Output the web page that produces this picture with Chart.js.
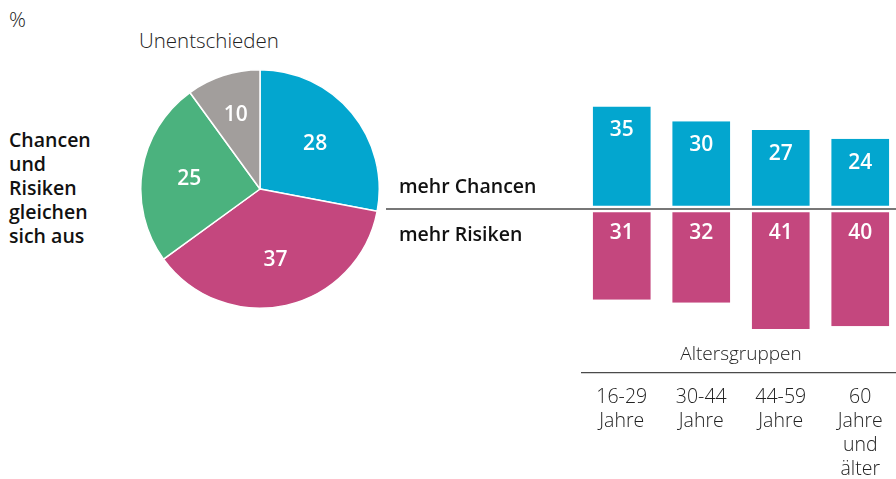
<!DOCTYPE html>
<html>
<head>
<meta charset="utf-8">
<script src="https://cdn.jsdelivr.net/npm/chart.js@4.4.1/dist/chart.umd.min.js"></script>
<style>
  html, body { margin:0; padding:0; background:#fff; width:896px; height:479px; overflow:hidden; }
  #wrap { position:relative; width:896px; height:479px; overflow:hidden; font-family:"Open Sans", "Noto Sans", sans-serif; }
  .txt { position:absolute; white-space:nowrap; }
  #pct { left:9px; top:5px; font-size:21px; line-height:28px; font-weight:300; color:#222; }
  #unent { left:139px; top:27px; font-size:20.5px; line-height:26px; font-weight:300; color:#222; }
  #balance { left:9px; top:128px; font-size:19.5px; line-height:24px; font-weight:600; color:#111; }
  #pieCanvas { position:absolute; left:140px; top:69px; }
  #barCanvas { position:absolute; left:380px; top:0px; }
</style>
</head>
<body>
<div id="wrap">
  <div class="txt" id="pct">%</div>
  <div class="txt" id="unent">Unentschieden</div>
  <div class="txt" id="balance">Chancen<br>und<br>Risiken<br>gleichen<br>sich aus</div>
  <canvas id="pieCanvas" width="240" height="240"></canvas>
  <canvas id="barCanvas" width="520" height="479"></canvas>
</div>
<script>
// ---- data ----
const pieLabels = ['mehr Chancen', 'mehr Risiken', 'Chancen und Risiken gleichen sich aus', 'Unentschieden'];
const pieValues = [28, 37, 25, 10];
const pieColors = ['#03a6cf', '#c4477e', '#4bb27e', '#a29e9c'];

const ageGroups = [['16-29', 'Jahre'], ['30-44', 'Jahre'], ['44-59', 'Jahre'], ['60', 'Jahre', 'und', 'älter']];
const moreChances = [35, 30, 27, 24];
const moreRisks = [31, 32, 41, 40];
const axisTitle = 'Altersgruppen';
const seriesNames = ['mehr Chancen', 'mehr Risiken'];

const FONT = '"Open Sans", "Noto Sans", sans-serif';

// ---- pie ----
const pieLabelPlugin = {
  id: 'pieLabels',
  afterDatasetsDraw(chart) {
    const ctx = chart.ctx;
    const meta = chart.getDatasetMeta(0);
    ctx.save();
    ctx.fillStyle = '#fff';
    ctx.font = '600 21px ' + FONT;
    ctx.textAlign = 'center';
    ctx.textBaseline = 'middle';
    meta.data.forEach((arc, i) => {
      const p = arc.getProps(['x', 'y', 'startAngle', 'endAngle', 'outerRadius'], true);
      const mid = (p.startAngle + p.endAngle) / 2;
      const f = pieValues[i] < 15 ? 0.66 : 0.6;
      const r = p.outerRadius * f;
      ctx.fillText(String(pieValues[i]), p.x + Math.cos(mid) * r, p.y + Math.sin(mid) * r + 1);
    });
    ctx.restore();
  }
};

new Chart(document.getElementById('pieCanvas'), {
  type: 'pie',
  data: {
    labels: pieLabels,
    datasets: [{ data: pieValues, backgroundColor: pieColors, borderColor: '#fff', borderWidth: 1.5 }]
  },
  options: {
    responsive: false,
    animation: false,
    layout: { padding: 0 },
    plugins: { legend: { display: false }, tooltip: { enabled: false } }
  },
  plugins: [pieLabelPlugin]
});

// ---- bars ----
const barExtras = {
  id: 'barExtras',
  afterDatasetsDraw(chart) {
    const ctx = chart.ctx;
    const y0 = chart.scales.y.getPixelForValue(0);
    const area = chart.chartArea;
    ctx.save();
    // zero line
    ctx.strokeStyle = '#4a4a4a';
    ctx.lineWidth = 1.3;
    ctx.beginPath();
    ctx.moveTo(6, y0);
    ctx.lineTo(chart.width, y0);
    ctx.stroke();
    // value labels
    ctx.fillStyle = '#fff';
    ctx.font = '600 21px ' + FONT;
    ctx.textAlign = 'center';
    ctx.textBaseline = 'middle';
    chart.data.datasets.forEach((ds, di) => {
      const meta = chart.getDatasetMeta(di);
      meta.data.forEach((bar, i) => {
        const top = Math.min(bar.y, bar.base);
        ctx.fillText(String(Math.abs(ds.data[i])), bar.x, top + 24);
      });
    });
    // series names
    ctx.fillStyle = '#111';
    ctx.font = '600 19.5px ' + FONT;
    ctx.textAlign = 'left';
    ctx.fillText(seriesNames[0], 19, y0 - 22);
    ctx.fillText(seriesNames[1], 19, y0 + 26);
    // axis title
    ctx.fillStyle = '#222';
    ctx.font = '300 19px ' + FONT;
    ctx.textAlign = 'center';
    ctx.fillText(axisTitle, (area.left + 516) / 2 + 2, area.bottom - 18);
    ctx.restore();
  }
};

new Chart(document.getElementById('barCanvas'), {
  type: 'bar',
  data: {
    labels: ageGroups,
    datasets: [
      {
        label: seriesNames[0],
        data: moreChances,
        backgroundColor: '#03a6cf',
        borderColor: '#fff',
        borderWidth: { top: 0, left: 0, right: 0, bottom: 3.3 },
        borderSkipped: false,
        barPercentage: 0.73,
        categoryPercentage: 1
      },
      {
        label: seriesNames[1],
        data: moreRisks.map(v => -v),
        backgroundColor: '#c4477e',
        borderColor: '#fff',
        borderWidth: { top: 3.3, left: 0, right: 0, bottom: 0 },
        borderSkipped: false,
        barPercentage: 0.73,
        categoryPercentage: 1
      }
    ]
  },
  options: {
    responsive: false,
    animation: false,
    layout: { padding: { left: 202, right: 0, top: 4, bottom: 0 } },
    plugins: { legend: { display: false }, tooltip: { enabled: false } },
    scales: {
      x: {
        stacked: true,
        grid: { display: false, drawTicks: false },
        border: { display: true, color: '#4a4a4a', width: 1.3 },
        ticks: {
          color: '#222',
          font: { family: FONT, size: 19.5, weight: 300, lineHeight: '24px' },
          padding: 12,
          maxRotation: 0,
          autoSkip: false
        },
        afterFit(axis) { axis.height = 106; }
      },
      y: {
        stacked: true,
        display: false,
        min: -56,
        max: 70
      }
    }
  },
  plugins: [barExtras]
});
</script>
</body>
</html>
